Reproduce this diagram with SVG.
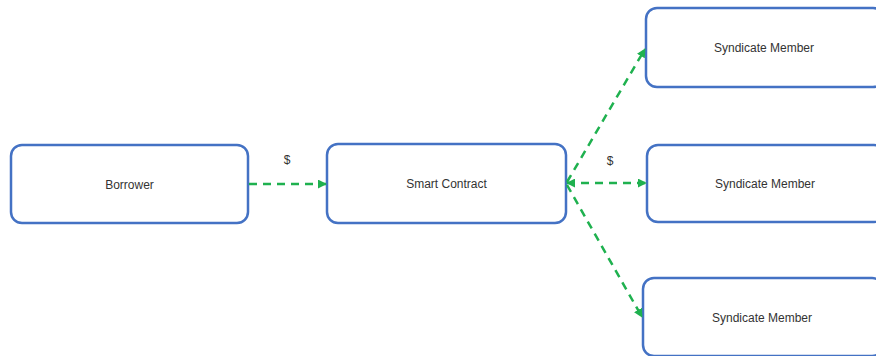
<svg xmlns="http://www.w3.org/2000/svg" width="876" height="356" viewBox="0 0 876 356">
<defs>
<style>
.box{fill:#ffffff;stroke:#4472c4;stroke-width:2.5}
.lbl{font-family:"Liberation Sans",Arial,sans-serif;font-size:12px;fill:#333333;text-anchor:middle;dominant-baseline:central}
.conn{fill:none;stroke:#1fb14f;stroke-width:2.5;stroke-dasharray:8 6}
</style>
<marker id="ah" viewBox="0 0 10 10" refX="9" refY="5" markerWidth="3.6" markerHeight="3.6" orient="auto-start-reverse" markerUnits="strokeWidth">
<path d="M0,0 L10,5 L0,10 z" fill="#1fb14f"/>
</marker>
</defs>
<rect width="876" height="356" fill="#ffffff"/>
<g id="borrower"><rect class="box" x="11" y="145" width="237" height="78" rx="11"/><text class="lbl" x="129.5" y="185">Borrower</text></g>
<g id="smart-contract"><rect class="box" x="327" y="144" width="239" height="79" rx="11"/><text class="lbl" x="446.5" y="184">Smart Contract</text></g>
<g id="member-top"><rect class="box" x="646" y="8" width="238" height="79" rx="11"/><text class="lbl" x="764" y="48">Syndicate Member</text></g>
<g id="member-middle"><rect class="box" x="647" y="145" width="238" height="77" rx="11"/><text class="lbl" x="765" y="184">Syndicate Member</text></g>
<g id="member-bottom"><rect class="box" x="643" y="278" width="240" height="78" rx="11"/><text class="lbl" x="762" y="318">Syndicate Member</text></g>
<g id="connectors">
<line class="conn" x1="249" y1="184" x2="326" y2="184" marker-end="url(#ah)"/>
<line class="conn" x1="567" y1="183" x2="646" y2="183" marker-start="url(#ah)" marker-end="url(#ah)"/>
<line class="conn" x1="567" y1="182" x2="645" y2="49" marker-end="url(#ah)"/>
<line class="conn" x1="567" y1="185" x2="642" y2="317" marker-end="url(#ah)"/>
<text class="lbl" x="287" y="160">$</text>
<text class="lbl" x="610" y="161">$</text>
</g>
</svg>
